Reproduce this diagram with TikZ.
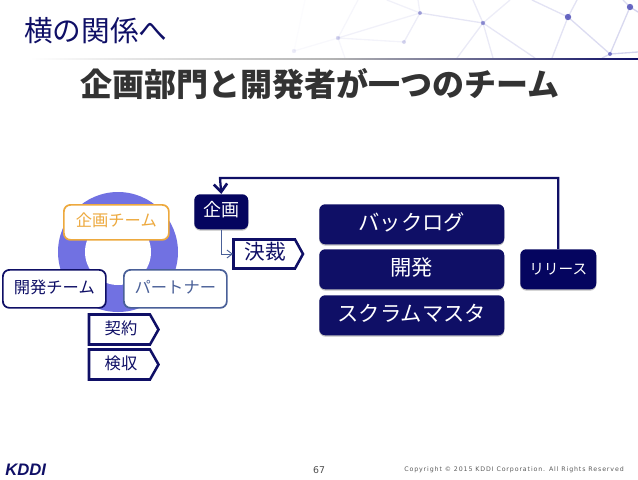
\documentclass[tikz,border=0pt]{standalone}
\usepackage{fontspec}
\setmainfont{Noto Sans CJK JP}
\newfontfamily\latinfont{DejaVu Sans}
\newfontfamily\kddifont{Liberation Sans}
\usetikzlibrary{arrows.meta,calc,fadings,shadows}
\definecolor{navy}{HTML}{0F0F66}
\definecolor{deep}{HTML}{05055F}
\definecolor{ringc}{HTML}{7171E2}
\definecolor{orangec}{HTML}{EDA93E}
\definecolor{partner}{HTML}{4A6098}
\definecolor{netc}{HTML}{5050B8}
\tikzset{
  x=0.75pt,y=-0.75pt,
  softshadow/.style={drop shadow={shadow xshift=0pt,shadow yshift=-1pt,opacity=.25,fill=black}},
  darkbox/.style={rounded corners=4.5pt,fill=navy,text=white,inner sep=0,softshadow},
  teambox/.style={rounded corners=5pt,fill=white,draw=#1,text=#1,line width=1.3pt,inner sep=0,font=\fontsize{12.2}{14}\selectfont},
  net/.style={draw=netc,line width=1pt,line cap=round},
  netdot/.style={fill=netc},
  tagbox/.style={draw=navy,fill=white,text=navy,line width=1.9pt,line join=miter},
  taglabel/.style={text=navy,inner sep=0,font=\fontsize{12.2}{14}\selectfont},
}
\newcommand{\boxat}[5]{\node[#1,minimum width=#4*0.75pt,minimum height=#5*0.75pt,anchor=north west] (#2) at (#3) }
\begin{document}
\begin{tikzpicture}
\useasboundingbox (0,0) rectangle (638,479);
% background network
\coordinate (nA) at (420,13);
\coordinate (nB) at (483,23);
\coordinate (nC) at (568,17);
\coordinate (nD) at (630,7);
\coordinate (nE) at (610,54);
\coordinate (nF) at (338,38);
\coordinate (nG) at (404,42);
\coordinate (nH) at (294,51);
\foreach \p/\q/\o in {
  nA/nB/.14,nA/nG/.1,nA/nF/.08,nF/nG/.07,nF/nH/.04,nC/nE/.2,nD/nE/.22}
  \draw[net,opacity=\o] (\p) -- (\q);
\foreach \p/\x/\y/\o in {
  nB/473/0/.12,nA/418/0/.08,nA/387/0/.08,nB/457/58/.12,nB/493/58/.12,nB/535/58/.14,
  nC/532/0/.16,nC/577/0/.16,nC/552/58/.16,nD/623/0/.2,nD/638/12/.25,nE/638/52/.25,
  nE/602/58/.2,nF/358/0/.05,nF/345/58/.05,nB/510/0/.1,nH/305/0/.02}
  \draw[net,opacity=\o] (\p) -- (\x,\y);
\foreach \p/\r/\o in {nA/2/.45,nB/2.2/.55,nC/3.2/.85,nD/3.2/.85,nE/2/.7,nF/2.2/.22,nG/2/.22,nH/2.2/.1}
  \fill[netdot,opacity=\o] (\p) circle[radius=\r];
% heading
\node[anchor=west,text=navy,font=\fontsize{21.5}{25}\selectfont,inner sep=0] (head) at (24,30.5) {横の関係へ};
\shade[left color=white,right color=navy,middle color=gray!60] (30,58.5) rectangle (638,59.7);
\node[text=black!80,font=\bfseries\fontsize{24}{28}\selectfont,inner sep=0] (title) at (320,84) {企画部門と開発者が一つのチーム};
% ring
\fill[ringc] (118,252) circle[radius=60];
\fill[white] (118,252) circle[radius=33];
% team boxes
\boxat{teambox=orangec}{plan}{63,204}{105}{35} {\raisebox{3.5pt}{企画チーム}};
\boxat{teambox=navy}{dev}{2,269}{103}{38} {\raisebox{3.5pt}{開発チーム}};
\boxat{teambox=partner}{part}{123,269}{103}{38} {\raisebox{3.5pt}{パートナー}};
% pentagons
\draw[tagbox] (89,314.5) -- (150,314.5) -- (158.5,329.5) -- (150,344.5) -- (89,344.5) -- cycle;
\node[taglabel] (keiyaku) at (121,328) {契約};
\draw[tagbox] (89,349.5) -- (150,349.5) -- (158.5,364.5) -- (150,379.5) -- (89,379.5) -- cycle;
\node[taglabel] (kenshu) at (121,363) {検収};
\draw[tagbox] (233.5,239.5) -- (295,239.5) -- (303,254) -- (295,268.5) -- (233.5,268.5) -- cycle;
\coordinate (kessaiL) at (233,254);
\node[text=navy,font=\fontsize{15.5}{18}\selectfont,inner sep=0] (kessai) at (265,252) {決裁};
% dark boxes
\boxat{darkbox,fill=deep,font=\fontsize{13.5}{15}\selectfont}{kikaku}{194,194}{54}{35} {\raisebox{4pt}{企画}};
\boxat{darkbox,font=\fontsize{16}{19}\selectfont}{back}{319,204}{185}{40} {\raisebox{3.5pt}{バックログ}};
\boxat{darkbox,font=\fontsize{16}{19}\selectfont}{kaihatsu}{319,249}{185}{40} {\raisebox{3.5pt}{開発}};
\boxat{darkbox,font=\fontsize{16}{19}\selectfont}{scrum}{319,295}{185}{40} {\raisebox{3.5pt}{スクラムマスタ}};
\boxat{darkbox,fill=deep,font=\fontsize{11}{14}\selectfont}{release}{520,249}{76}{40} {\raisebox{1pt}{リリース}};
% connectors
\draw[navy,line width=1.7pt,-{Straight Barb[length=6pt,width=10pt,line width=2pt]}]
  ($(release.north west)!0.5!(release.north east)$) |- (220,178) -- (kikaku.north);
\draw[partner,line width=0.7pt,-{Straight Barb[length=4pt,width=6pt]}] (kikaku.south) |- (kessaiL);
% footer
\node[text=navy,font=\kddifont\bfseries\itshape\fontsize{12.5}{15}\selectfont,inner sep=0,anchor=west] (logo) at (5,470) {KDDI};
\node[text=black!70,font=\latinfont\fontsize{7}{9}\selectfont,inner sep=0] (page) at (319,470) {67};
\node[text=black!65,anchor=east,font=\latinfont\fontsize{4.7}{7}\selectfont,inner sep=0] (copy) at (624,470) {\addfontfeature{LetterSpace=14}Copyright © 2015 KDDI Corporation. All Rights Reserved};
\end{tikzpicture}
\end{document}
